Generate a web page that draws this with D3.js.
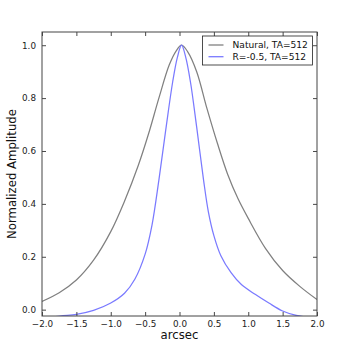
<!DOCTYPE html>
<html>
<head>
<meta charset="utf-8">
<script src="https://cdn.jsdelivr.net/npm/d3@7"></script>
<style>
  html, body { margin: 0; padding: 0; background: #fff; }
  svg { display: block; font-family: "DejaVu Sans", sans-serif; }
</style>
</head>
<body>
<div id="chart"></div>
<script>
  // readings
  const naturalX = [-2.0, -1.75, -1.5, -1.25, -1.0, -0.8, -0.6, -0.45, -0.3, -0.15, -0.05, 0.03, 0.12, 0.25, 0.4, 0.55, 0.7, 0.85, 1.0, 1.25, 1.5, 1.75, 2.0];
  const naturalY = [0.031, 0.064, 0.112, 0.187, 0.295, 0.41, 0.545, 0.665, 0.80, 0.925, 0.978, 1.0, 0.975, 0.90, 0.76, 0.63, 0.512, 0.42, 0.345, 0.232, 0.148, 0.088, 0.038];

  const robustX = [-2.0, -1.74, -1.5, -1.25, -1.0, -0.8, -0.65, -0.5, -0.4, -0.3, -0.2, -0.1, -0.03, 0.03, 0.09, 0.16, 0.25, 0.35, 0.42, 0.5, 0.6, 0.75, 0.9, 1.1, 1.3, 1.5, 1.7, 1.85, 2.0];
  const robustY = [-0.035, -0.024, -0.018, -0.003, 0.025, 0.062, 0.115, 0.21, 0.32, 0.49, 0.68, 0.86, 0.955, 1.0, 0.955, 0.86, 0.69, 0.49, 0.37, 0.28, 0.205, 0.14, 0.095, 0.058, 0.025, -0.005, -0.022, -0.028, -0.032];

  const xTicks = [-2.0, -1.5, -1.0, -0.5, 0.0, 0.5, 1.0, 1.5, 2.0];
  const yTicks = [0.0, 0.2, 0.4, 0.6, 0.8, 1.0];
  const seriesNames = ["Natural, TA=512", "R=-0.5, TA=512"];
  const seriesColors = ["#808080", "#7a7aff"];

  const width = 346;
  const height = 347;
  const margin = { top: 32, right: 29, bottom: 31, left: 42 };
  const plotW = width - margin.left - margin.right;
  const plotH = height - margin.top - margin.bottom;

  const x = d3.scaleLinear().domain([-2, 2]).range([0, plotW]);
  const y = d3.scaleLinear().domain([-0.024, 1.05]).range([plotH, 0]);

  const fmt = (v) => d3.format(".1f")(v).replace("-", "\u2212");

  const svg = d3.select("#chart")
    .append("svg")
    .attr("width", width)
    .attr("height", height);

  const defs = svg.append("defs");
  defs.append("clipPath")
    .attr("id", "plot-clip")
    .append("rect")
    .attr("width", plotW)
    .attr("height", plotH);

  const g = svg.append("g").attr("transform", `translate(${margin.left},${margin.top})`);

  const line = d3.line()
    .x((d) => x(d[0]))
    .y((d) => y(d[1]))
    .curve(d3.curveCatmullRom.alpha(0.5));

  const series = [
    d3.zip(naturalX, naturalY),
    d3.zip(robustX, robustY)
  ];

  g.append("g")
    .attr("clip-path", "url(#plot-clip)")
    .selectAll("path")
    .data(series)
    .join("path")
    .attr("d", line)
    .attr("fill", "none")
    .attr("stroke", (d, i) => seriesColors[i])
    .attr("stroke-width", 1.25);

  // axes with inward ticks on all four sides
  const tickLen = 4;
  const styleAxis = (sel) => {
    sel.select(".domain").remove();
    sel.selectAll(".tick line").attr("stroke", "#333").attr("stroke-width", 0.9);
    sel.selectAll(".tick text").attr("fill", "#222").attr("font-size", "8.8px").attr("font-family", "DejaVu Sans, sans-serif");
  };

  g.append("g")
    .attr("transform", `translate(0,${plotH})`)
    .call(d3.axisBottom(x).tickValues(xTicks).tickFormat(fmt).tickSizeInner(-tickLen).tickSizeOuter(0).tickPadding(5))
    .call(styleAxis);

  g.append("g")
    .call(d3.axisTop(x).tickValues(xTicks).tickFormat("").tickSizeInner(-tickLen).tickSizeOuter(0))
    .call(styleAxis);

  g.append("g")
    .call(d3.axisLeft(y).tickValues(yTicks).tickFormat(fmt).tickSizeInner(-tickLen).tickSizeOuter(0).tickPadding(6))
    .call(styleAxis);

  g.append("g")
    .attr("transform", `translate(${plotW},0)`)
    .call(d3.axisRight(y).tickValues(yTicks).tickFormat("").tickSizeInner(-tickLen).tickSizeOuter(0))
    .call(styleAxis);

  g.append("rect")
    .attr("width", plotW)
    .attr("height", plotH)
    .attr("fill", "none")
    .attr("stroke", "#444")
    .attr("stroke-width", 1);

  svg.append("text")
    .attr("x", margin.left + plotW / 2)
    .attr("y", 339)
    .attr("text-anchor", "middle")
    .attr("font-size", "11.7px")
    .attr("fill", "#111")
    .text("arcsec");

  svg.append("text")
    .attr("transform", `translate(16,${margin.top + plotH / 2}) rotate(-90)`)
    .attr("text-anchor", "middle")
    .attr("font-size", "11.7px")
    .attr("fill", "#111")
    .text("Normalized Amplitude");

  // legend
  const legend = svg.append("g").attr("transform", "translate(202.5,36)");
  legend.append("rect")
    .attr("width", 110)
    .attr("height", 29)
    .attr("fill", "#fff")
    .attr("stroke", "#222")
    .attr("stroke-width", 0.8);

  const rows = legend.selectAll("g.row")
    .data(seriesNames)
    .join("g")
    .attr("class", "row")
    .attr("transform", (d, i) => `translate(0,${9 + i * 11.7})`);

  rows.append("line")
    .attr("x1", 6)
    .attr("x2", 21)
    .attr("stroke", (d, i) => seriesColors[i])
    .attr("stroke-width", 1.3);

  rows.append("text")
    .attr("x", 30)
    .attr("dy", "0.35em")
    .attr("font-size", "9.1px")
    .attr("fill", "#111")
    .text((d) => d);
</script>
</body>
</html>
